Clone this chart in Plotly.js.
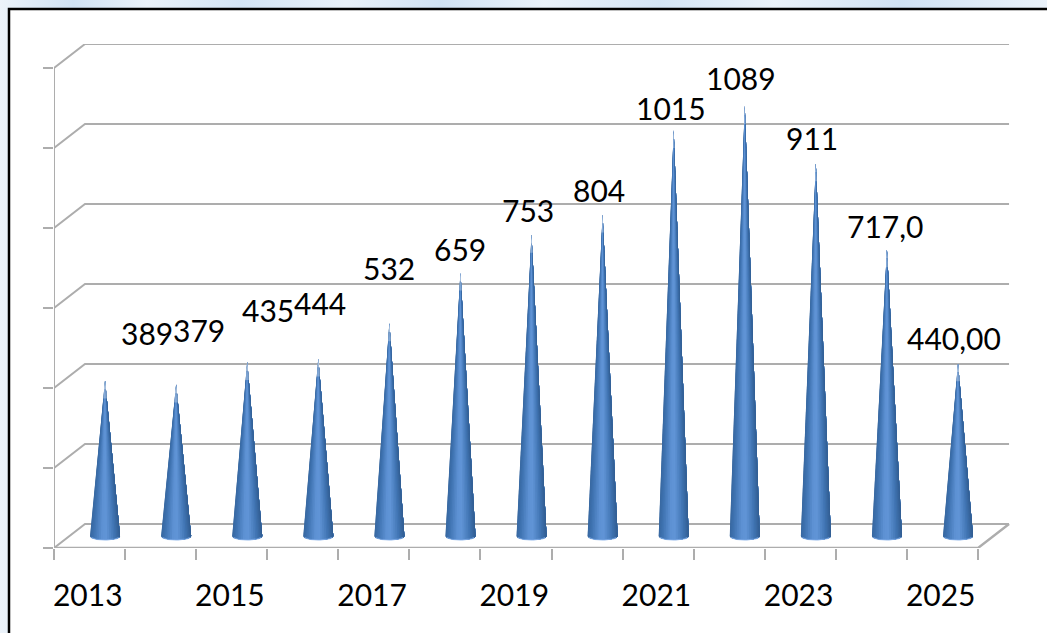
<!DOCTYPE html>
<html><head><meta charset="utf-8">
<script src="https://cdn.plot.ly/plotly-3.0.1.min.js"></script>
<style>
html,body{margin:0;padding:0;width:1047px;height:633px;overflow:hidden;
background-color:#dce9f6;
background-image:linear-gradient(90deg,rgba(255,255,255,.45),rgba(190,215,240,.4) 7%,rgba(255,255,255,.4) 14%,rgba(200,222,244,.45) 23%,rgba(255,255,255,.35) 33%,rgba(190,215,240,.4) 42%,rgba(255,255,255,.4) 52%,rgba(200,222,244,.4) 63%,rgba(255,255,255,.4) 74%,rgba(190,215,240,.4) 86%,rgba(255,255,255,.4));}
#chart{position:absolute;left:0;top:0;width:1047px;height:633px;}
</style></head><body><div id="chart"></div>
<script>
// ---- data ----
const years = ["2013","2014","2015","2016","2017","2018","2019","2020","2021","2022","2023","2024","2025"];
const coneValues = [389,379,435,444,532,659,753,804,1015,1075,932,717,432];
const labelTexts = ["389","379","435","444","532","659","753","804","1015","1089","911","717,0","440,00"];
const valueTicks = [0,200,400,600,800,1000,1200];
// label nudges from the cone apex, in pixels (x, y upward)
const labelDx = [42,23,21,2,0,0,-4,-4,-3,-4,-4,-2,-4];
const labelDy = [47,54,52,55,55,23,25,24,22,28,25,23,25];

// ---- layout geometry ----
const W=1047,H=633,L=54,R=35,T=44,B=85;
const pxPerCat=71.08, pxPerVal=0.4;
const depthX=31/pxPerCat, depthY=24/pxPerVal;
const xMin=-0.5, xMax=xMin+(W-L-R)/pxPerCat, yMax=(H-T-B)/pxPerVal;
const xFront=years.length-0.5;
const gridColor="#adadad", font="Lato, sans-serif";

const traces=[];
function line(xs,ys,w){traces.push({type:"scatter",mode:"lines",x:xs,y:ys,cliponaxis:false,hoverinfo:"skip",showlegend:false,
  line:{color:gridColor,width:w||2,simplify:false}});}
valueTicks.forEach(v=>line([xMin,xMin+depthX,xFront+depthX],[v,v+depthY,v+depthY]));
line([xMin,xMin],[0,1200]);
line([xMin,xFront,xFront+depthX],[0,0,depthY],2.4);

// cone: each slice covers everything from its start to the right edge, so no seams show between slices
const shadeStops=[[0,[56,104,160]],[0.12,[62,114,176]],[0.4,[94,146,212]],[0.55,[96,148,214]],[0.82,[64,116,178]],[1,[50,94,146]]];
function shade(t){for(let k=1;k<shadeStops.length;k++){const a=shadeStops[k-1],b=shadeStops[k];
  if(t<=b[0]){const f=(t-a[0])/(b[0]-a[0]);return "rgb("+a[1].map((c,n)=>Math.round(c+(b[1][n]-c)*f)).join(",")+")";}}}
const baseR=15/pxPerCat, baseK=10, slices=22;
function noLine(){return {color:"rgba(0,0,0,0)",width:0};}
years.forEach((yr,i)=>{
  const cx=i+depthX/2, by=depthY/2, top=by+coneValues[i];
  for(let s=0;s<slices;s++){
    const xs=[],ys=[];
    for(let q=s;q<=slices;q++){const a=Math.PI*(1-q/slices);xs.push(cx+baseR*Math.cos(a));ys.push(by-baseK*Math.sin(a));}
    xs.push(cx,xs[0]);ys.push(top,ys[0]);
    const t=(1-Math.cos(Math.PI*(s+0.5)/slices))/2;
    traces.push({type:"scatter",mode:"lines",fill:"toself",fillcolor:shade(t),line:noLine(),hoverinfo:"skip",showlegend:false,cliponaxis:false,x:xs,y:ys});
  }
  // pale bottom rim
  const rx=[],ry=[];
  for(let q=3;q<=slices-3;q++){const a=Math.PI*(1-q/slices);rx.push(cx+baseR*Math.cos(a));ry.push(by-baseK*Math.sin(a));}
  traces.push({type:"scatter",mode:"lines",x:rx,y:ry,line:{color:"rgba(125,170,230,.8)",width:1.2},hoverinfo:"skip",showlegend:false,cliponaxis:false});
  // faded tip
  const h=coneValues[i];
  [[45,"rgba(255,255,255,.28)"],[22,"rgba(255,255,255,.35)"]].forEach(([d,c])=>{
    const w=baseR*d/h*1.6;
    traces.push({type:"scatter",mode:"lines",fill:"toself",fillcolor:c,line:noLine(),hoverinfo:"skip",showlegend:false,cliponaxis:false,
      x:[cx-w,cx+w,cx,cx-w],y:[top-d,top-d,top+1,top-d]});
  });
});

const annotations=years.map((yr,i)=>({x:i+depthX/2,y:depthY/2+coneValues[i],text:labelTexts[i],showarrow:false,
  xanchor:"center",yanchor:"middle",xshift:labelDx[i],yshift:labelDy[i],font:{family:font,size:30,color:"#000"}}));

const layout={width:W,height:H,margin:{l:L,r:R,t:T,b:B,pad:0},paper_bgcolor:"rgba(0,0,0,0)",plot_bgcolor:"rgba(0,0,0,0)",showlegend:false,
  font:{family:font,size:30,color:"#000"},
  shapes:[{type:"rect",xref:"paper",yref:"paper",layer:"below",
    x0:(9-L)/(W-L-R),x1:(W+6-L)/(W-L-R),y0:(H-B-(H+6))/(H-T-B),y1:(H-B-9)/(H-T-B),
    fillcolor:"#fff",line:{color:"#000",width:2.5}}],
  xaxis:{range:[xMin,xMax],showgrid:false,zeroline:false,showline:false,fixedrange:true,
    tickmode:"array",tickvals:years.map((y,i)=>i-0.025).filter((v,i)=>i%2===0),ticktext:years.filter((y,i)=>i%2===0),
    ticks:"",ticklabelstandoff:27,tickfont:{family:font,size:30,color:"#000"},
    minor:{tickmode:"array",tickvals:years.map((y,i)=>i-0.5).concat([xFront]),ticks:"outside",ticklen:11,tickwidth:2,tickcolor:gridColor,showgrid:false}},
  yaxis:{range:[0,yMax],showgrid:false,zeroline:false,showline:false,fixedrange:true,
    tickmode:"array",tickvals:valueTicks,showticklabels:false,ticks:"outside",ticklen:10,tickwidth:2,tickcolor:gridColor},
  annotations};
Plotly.newPlot("chart",traces,layout,{displayModeBar:false,staticPlot:true});
</script></body></html>
